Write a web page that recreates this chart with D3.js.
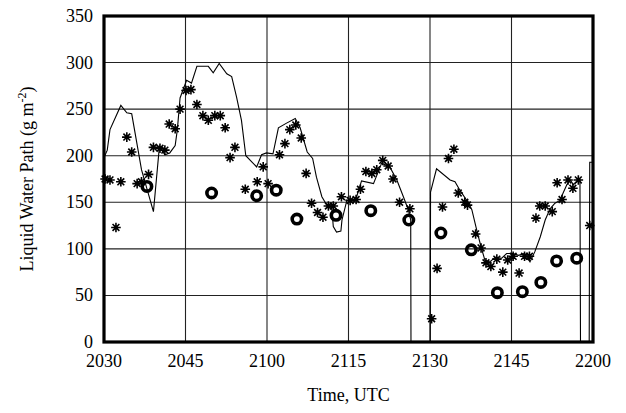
<!DOCTYPE html>
<html>
<head>
<meta charset="utf-8">
<script src="https://cdn.jsdelivr.net/npm/d3@7"></script>
<style>
  body { margin: 0; background: #fff; }
  svg { display: block; font-family: "Liberation Serif", "Times New Roman", serif; }
</style>
</head>
<body>
<div id="chart"></div>
<script>
// minutes after 2030 UTC
var tickLabels = ["2030", "2045", "2100", "2115", "2130", "2145", "2200"];
var yTicks = [0, 50, 100, 150, 200, 250, 300, 350];

// line (radiometer LWP)
var lineTime = [0, 0.6, 1.1, 3.1, 4.2, 5.1, 6.9, 9.1, 10.2, 11.2, 12.1, 13.1, 13.5, 14.0, 15.2, 16.1, 17.1, 18.6, 19.2, 20.1, 21.2,
  22.6, 23.5, 24.4, 25.3, 26.1, 28.1, 29.0, 29.9, 31.1, 32.1, 33.6, 35.2, 36.1, 37.4, 38.4, 39.1, 40.1, 41.0, 41.9,
  42.2, 42.8, 43.6, 43.8, 44.7, 45.6, 46.5, 47.4, 49.6, 51.1, 52.6, 53.9, 55.1, 56.0, 56.45, 56.5, 60.05, 60.1,
  61.2, 63.7, 64.6, 65.5, 67.1, 67.7, 68.6, 69.4, 70.1, 71.0, 72.0, 73.2, 74.1, 75.3, 76.3, 77.4, 78.4, 79.3,
  80.3, 81.2, 82.1, 83.0, 83.9, 84.5, 85.2, 85.8, 86.4, 87.0, 87.6, 87.7, 89.3, 89.4, 90];
var lineLwp = [198, 206, 228, 254, 246, 245, 185, 140, 210, 201, 203, 211, 228, 262, 281, 278, 296, 296, 296, 289, 299,
  288, 285, 263, 238, 200, 188, 201, 203, 202, 230, 235, 240, 230, 204, 197, 177, 156, 147, 145,
  124, 118, 119, 131, 152, 151, 156, 173, 170, 192, 188, 174, 156, 142, 131, 0, 0, 161,
  186, 174, 172, 163, 149, 142, 120, 102, 88, 86, 91, 90, 95, 95, 93, 95, 86, 97,
  113, 131, 143, 149, 152, 160, 169, 174, 169, 172, 174, 0, 0, 193, 193];

// asterisks
var starTime = [0.2, 1.1, 2.2, 3.1, 4.2, 5.1, 6.1, 6.9, 8.2, 9.1, 10.3, 11.2, 12.0, 13.1, 14.0, 15.1, 16.0, 17.1, 18.2,
  19.2, 20.4, 21.4, 22.3, 23.2, 24.1, 26.0, 28.2, 29.3, 30.2, 32.3, 33.3, 34.2, 35.3, 36.3, 37.2, 38.2, 39.3,
  40.3, 41.3, 42.2, 43.7, 45.3, 46.4, 47.2, 48.2, 49.3, 50.2, 51.3, 52.3, 53.2, 54.4, 56.3, 60.3, 61.3, 62.3,
  63.4, 64.4, 65.2, 66.4, 66.9, 68.4, 69.4, 70.3, 71.2, 72.3, 73.4, 74.3, 75.3, 76.4, 77.4, 78.3, 79.5, 80.2,
  81.2, 82.5, 83.4, 84.3, 85.4, 86.3, 87.3, 89.4];
var starLwp = [175, 174, 123, 172, 220, 204, 170, 172, 180, 209, 208, 206, 234, 229, 250, 270, 271, 255, 243,
  238, 243, 243, 230, 198, 209, 164, 172, 188, 170, 201, 213, 228, 233, 219, 181, 149, 139,
  134, 146, 146, 156, 152, 153, 164, 183, 181, 185, 195, 189, 175, 150, 143, 25, 79, 145,
  197, 207, 160, 150, 147, 116, 101, 85, 81, 89, 75, 88, 92, 74, 92, 92, 133, 146,
  146, 140, 171, 153, 174, 165, 174, 125];

// circles
var circleTime = [7.9, 19.8, 28.1, 31.7, 35.5, 42.7, 49.1, 56.1, 62.0, 67.6, 72.4, 77.0, 80.4, 83.3, 87.0];
var circleLwp = [167, 160, 157, 163, 132, 136, 141, 131, 117, 99, 53, 54, 64, 87, 90];

var width = 626, height = 413;
var margin = { top: 16, right: 33, bottom: 71, left: 104 };

var svg = d3.select('#chart').append('svg')
  .attr('width', width)
  .attr('height', height);

var x = d3.scaleLinear().domain([0, 90]).range([margin.left, width - margin.right]);
var y = d3.scaleLinear().domain([0, 350]).range([height - margin.bottom, margin.top]);

svg.append('clipPath').attr('id', 'clip')
  .append('rect')
  .attr('x', margin.left).attr('y', margin.top)
  .attr('width', x(90) - x(0)).attr('height', y(0) - y(350));

// grid
svg.append('g')
  .selectAll('line')
  .data(yTicks)
  .enter().append('line')
  .attr('x1', x(0)).attr('x2', x(90))
  .attr('y1', function(d) { return y(d); })
  .attr('y2', function(d) { return y(d); })
  .attr('stroke', '#222').attr('stroke-width', 1.1);

svg.append('g')
  .selectAll('line')
  .data(tickLabels)
  .enter().append('line')
  .attr('x1', function(d, i) { return x(i * 15); })
  .attr('x2', function(d, i) { return x(i * 15); })
  .attr('y1', y(0)).attr('y2', y(350))
  .attr('stroke', '#222').attr('stroke-width', 1.1);

// y tick labels
svg.append('g')
  .selectAll('text')
  .data(yTicks)
  .enter().append('text')
  .attr('x', margin.left - 11)
  .attr('y', function(d) { return y(d) + 6; })
  .attr('text-anchor', 'end')
  .attr('font-size', 18)
  .text(function(d) { return d; });

// x tick labels
svg.append('g')
  .selectAll('text')
  .data(tickLabels)
  .enter().append('text')
  .attr('x', function(d, i) { return x(i * 15); })
  .attr('y', y(0) + 25)
  .attr('text-anchor', 'middle')
  .attr('font-size', 18)
  .text(function(d) { return d; });

// line
var lineData = lineTime.map(function(t, i) { return [t, lineLwp[i]]; });
svg.append('path')
  .datum(lineData)
  .attr('clip-path', 'url(#clip)')
  .attr('fill', 'none')
  .attr('stroke', '#000')
  .attr('stroke-width', 1.1)
  .attr('d', d3.line().x(function(d) { return x(d[0]); }).y(function(d) { return y(d[1]); }));

// asterisks
var s = 4.8, s2 = 3.4;
var starPath = 'M0,' + (-s) + 'V' + s + 'M' + (-s) + ',0H' + s +
  'M' + (-s2) + ',' + (-s2) + 'L' + s2 + ',' + s2 + 'M' + (-s2) + ',' + s2 + 'L' + s2 + ',' + (-s2);
svg.append('g')
  .selectAll('path')
  .data(starTime)
  .enter().append('path')
  .attr('transform', function(d, i) { return 'translate(' + x(d) + ',' + y(starLwp[i]) + ')'; })
  .attr('d', starPath)
  .attr('stroke', '#000')
  .attr('stroke-width', 1.6)
  .attr('fill', 'none');

// circles
svg.append('g')
  .selectAll('circle')
  .data(circleTime)
  .enter().append('circle')
  .attr('cx', function(d) { return x(d); })
  .attr('cy', function(d, i) { return y(circleLwp[i]); })
  .attr('r', 4.7)
  .attr('fill', 'none')
  .attr('stroke', '#000')
  .attr('stroke-width', 3.6);

// frame
svg.append('rect')
  .attr('x', x(0)).attr('y', y(350))
  .attr('width', x(90) - x(0)).attr('height', y(0) - y(350))
  .attr('fill', 'none')
  .attr('stroke', '#000')
  .attr('stroke-width', 3.2);

// axis titles
svg.append('text')
  .attr('x', (x(0) + x(90)) / 2)
  .attr('y', 401)
  .attr('text-anchor', 'middle')
  .attr('font-size', 18)
  .text('Time, UTC');

var yt = svg.append('text')
  .attr('transform', 'translate(33,' + ((y(0) + y(350)) / 2) + ') rotate(-90)')
  .attr('text-anchor', 'middle')
  .attr('font-size', 18);
yt.append('tspan').text('Liquid Water Path (g m');
yt.append('tspan').attr('font-size', 12).attr('dy', -7).text('-2');
yt.append('tspan').attr('dy', 7).text(')');
</script>
</body>
</html>
